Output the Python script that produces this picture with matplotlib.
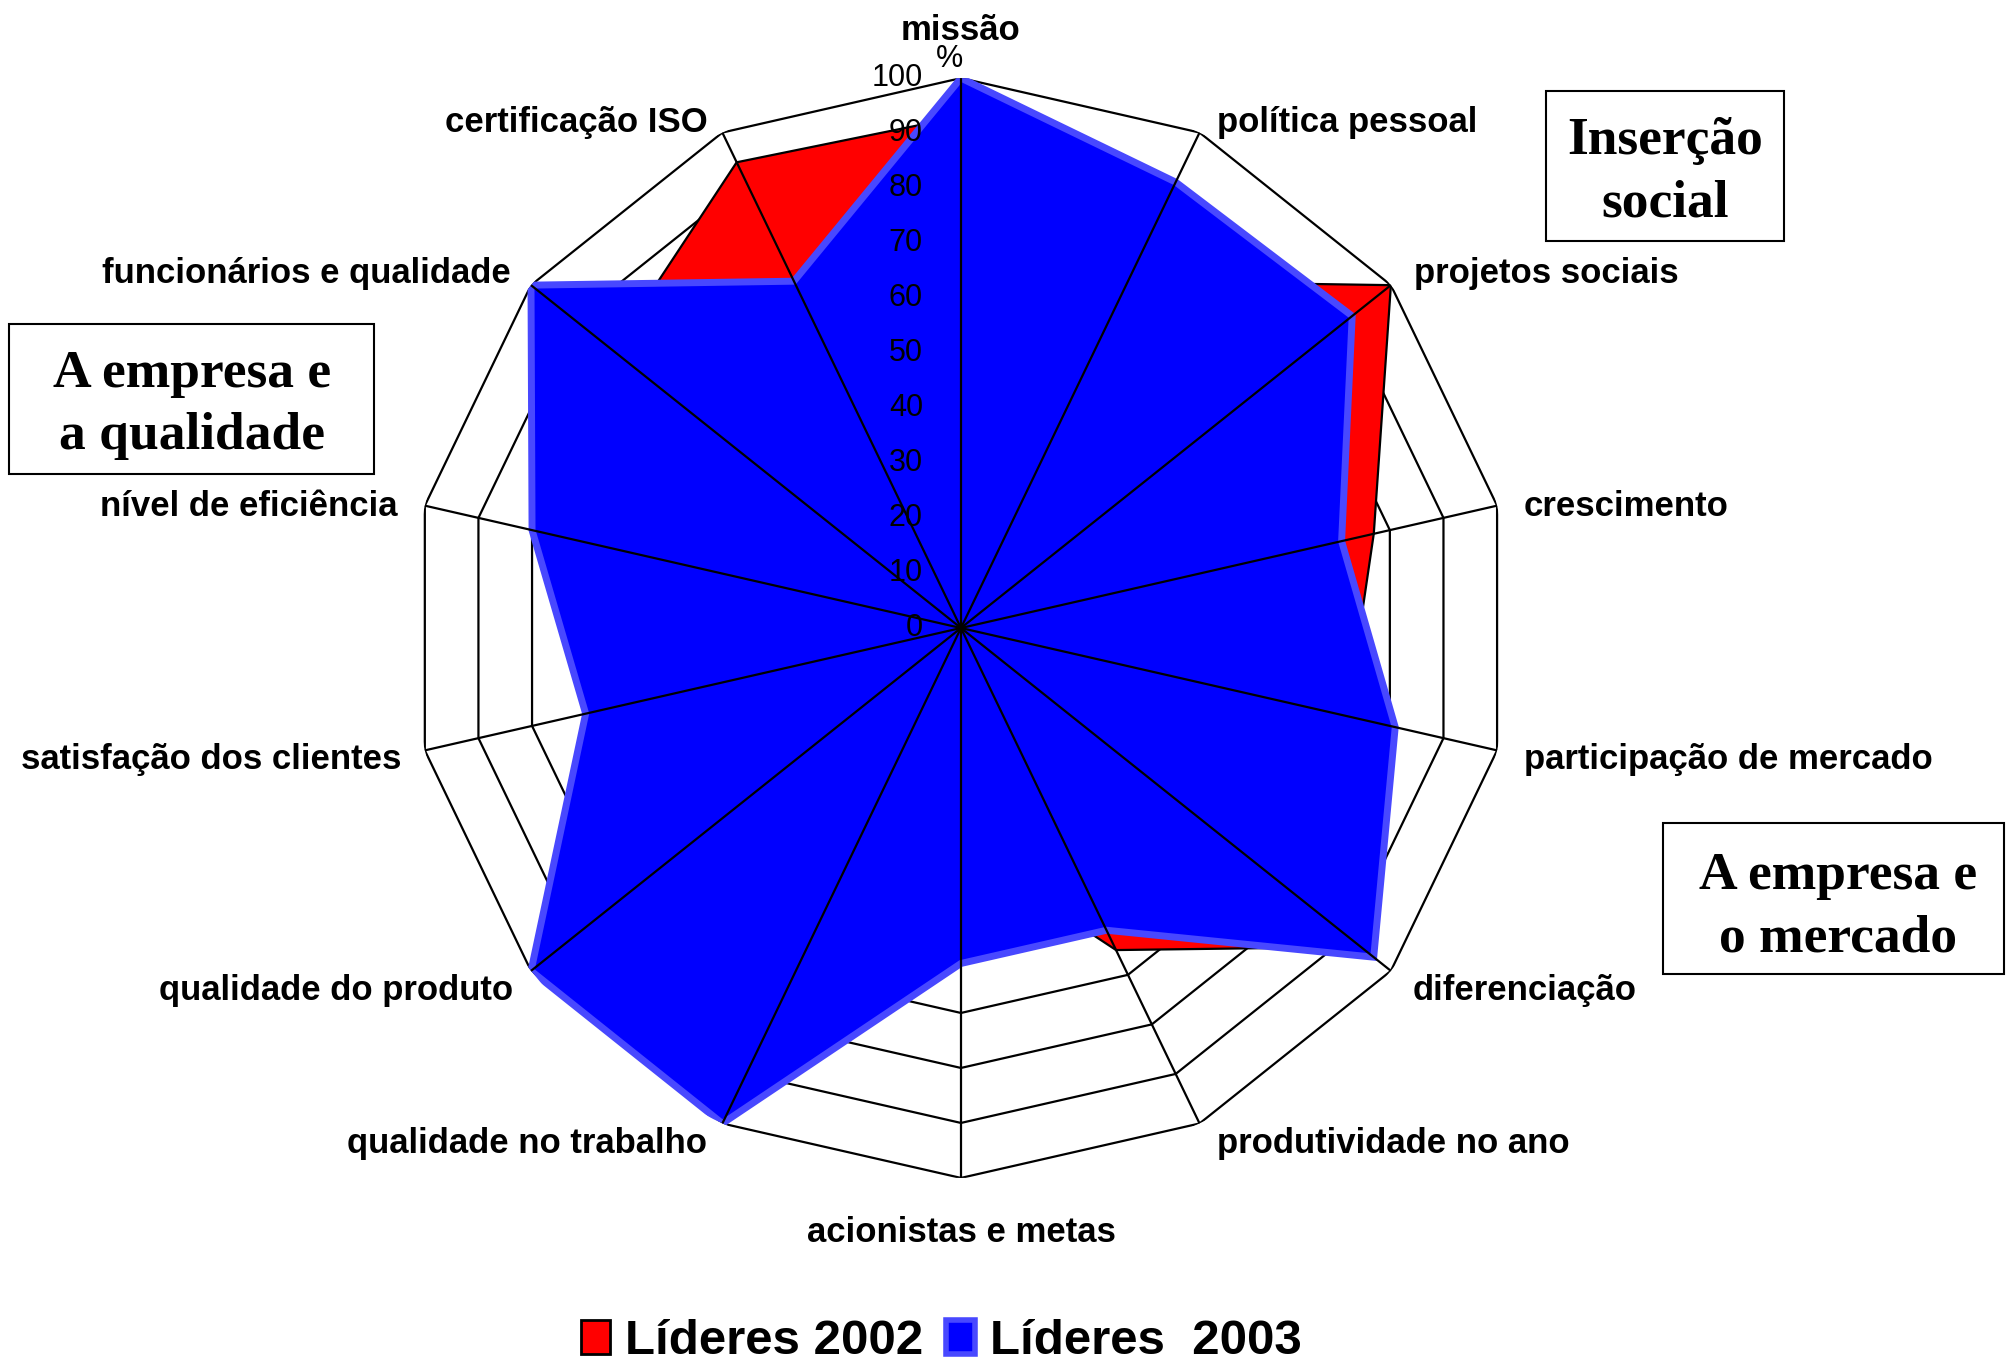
import numpy as np
import matplotlib.pyplot as plt
from matplotlib.patches import Patch, Rectangle

plt.rcParams['font.family'] = ['Liberation Sans', 'DejaVu Sans']

# data (clockwise from the top)
categories = ['missão', 'política pessoal', 'projetos sociais', 'crescimento',
              'participação de mercado', 'diferenciação', 'produtividade no ano',
              'acionistas e metas', 'qualidade no trabalho', 'qualidade do produto',
              'satisfação dos clientes', 'nível de eficiência',
              'funcionários e qualidade', 'certificação ISO']
lideres_2002 = [93, 70, 100, 77, 72, 93, 65, 40, 90, 88, 60, 72, 81, 94]
lideres_2003 = [100, 90, 91, 71, 81, 96, 61, 61, 100, 100, 70, 80, 100, 70]
ticks = list(range(0, 101, 10))
legend_labels = ['Líderes 2002', 'Líderes  2003']
groups = ['Inserção\nsocial', 'A empresa e\na qualidade', 'A empresa e\no mercado']

W, H = 2007, 1362
n = len(categories)
ang = np.linspace(0, 2 * np.pi, n, endpoint=False)
ang_c = np.append(ang, ang[0])

fig = plt.figure(figsize=(W / 100, H / 100), dpi=100)
ax = fig.add_axes([0.2048, 0.1351, 0.548, 0.8076], projection='polar')
ax.set_theta_zero_location('N')
ax.set_theta_direction(-1)
ax.set_ylim(0, 100)
ax.axis('off')

# polygon rings (under the fills)
for t in ticks[1:]:
    ax.plot(ang_c, [t] * (n + 1), color='black', lw=1.6, zorder=1)

red = np.append(lideres_2002, lideres_2002[0])
blue = np.append(lideres_2003, lideres_2003[0])
ax.fill(ang_c, red, facecolor='#ff0000', edgecolor='black', lw=1.6, zorder=2)
ax.fill(ang_c, blue, facecolor='#0000ff', edgecolor='#4848ff', lw=5,
        joinstyle='miter', zorder=3)

# spokes (on top)
for a in ang:
    ax.plot([a, a], [0, 100], color='black', lw=1.6, zorder=4)

for t in ticks:
    ax.annotate(str(t), xy=(0, t), xytext=(-38, 0), textcoords='offset pixels',
                ha='right', va='center', fontsize=22, zorder=5)
ax.annotate('%', xy=(0, 100), xytext=(-11, 19), textcoords='offset pixels',
            ha='center', va='center', fontsize=22, zorder=5)

# label offsets in pixels
offs = [(0, 48), (17, 10), (23, 12), (27, -1), (27, -9), (22, -20), (17, -20),
        (0, -55), (-15, -20), (-18, -20), (-23, -9), (-27, -1), (-20, 12), (-15, 10)]
for i, (a, lab) in enumerate(zip(ang, categories)):
    dx, dy = offs[i]
    ha = 'center' if dx == 0 else ('left' if dx > 0 else 'right')
    ax.annotate(lab, xy=(a, 100), xytext=(dx, dy), textcoords='offset pixels',
                ha=ha, va='center', fontsize=25, fontweight='bold')

# group boxes (pixel layout)
boxes = [(1546, 91, 1784, 241, 1665, 172),
         (9, 324, 374, 474, 192, 405),
         (1663, 823, 2004, 974, 1838, 907)]
for txt, (x0, y0, x1, y1, cx, cy) in zip(groups, boxes):
    fig.add_artist(Rectangle((x0 / W, 1 - y1 / H), (x1 - x0) / W, (y1 - y0) / H,
                             transform=fig.transFigure, fill=False,
                             edgecolor='black', lw=1.5))
    fig.text(cx / W, 1 - cy / H, txt, ha='center', va='center', fontsize=38.5,
             fontweight='bold', family='Liberation Serif', linespacing=1.4)

handles = [Patch(facecolor='#ff0000', edgecolor='black', lw=2),
           Patch(facecolor='#0000ff', edgecolor='#4848ff', lw=4)]
fig.legend(handles, legend_labels, loc='center', bbox_to_anchor=(0.469, 0.015),
           ncol=2, frameon=False, prop={'size': 35.5, 'weight': 'bold'},
           handlelength=0.6, handleheight=0.7, handletextpad=0.3,
           columnspacing=0.45, borderaxespad=0)

fig.savefig('out.png', dpi=100)
